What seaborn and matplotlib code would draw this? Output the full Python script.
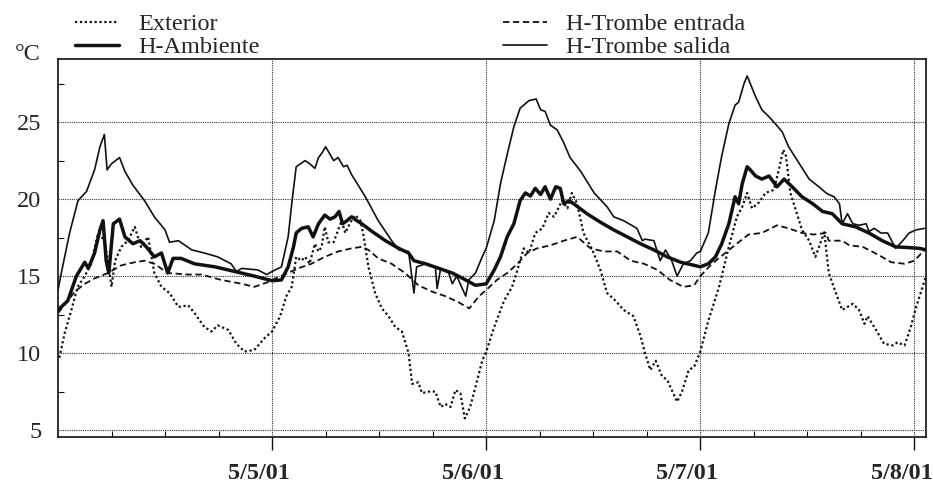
import numpy as np
import pandas as pd
import matplotlib
matplotlib.use("Agg")
import matplotlib.pyplot as plt
import matplotlib.transforms as mtransforms
import matplotlib.dates as mdates
import seaborn as sns

# ---------------- data (hours since 5/4/01 00:00, temperature in °C) ----------------
ext_h = [0.15, 0.75, 1.5, 2.2, 3.0, 3.7, 4.5, 5.2, 5.6, 6.0, 6.4, 7.1, 7.85, 8.6, 9.3, 10.1, 10.8, 11.6,
         12.5, 13.5, 14.6, 15.3, 16.4, 17.2, 17.9, 19.1, 20.0, 20.9, 22.0, 23.2, 24.0, 24.9, 25.6, 26.2,
         26.7, 27.3, 27.7, 28.2, 28.8, 29.2, 29.55, 29.9, 30.3, 30.9, 31.4, 31.8, 32.2, 32.7, 33.3, 33.9,
         34.2, 34.8, 35.55, 36.3, 37.05, 37.8, 38.55, 39.3, 39.7, 40.4, 40.8, 41.55, 42.3, 42.9, 43.4,
         44.0, 44.55, 45.1, 45.6, 46.2, 47.0, 47.55, 48.0, 48.9, 50.0, 50.9, 51.5, 52.2, 52.8, 53.5,
         54.3, 55.0, 55.6, 56.5, 57.1, 57.6, 58.2, 58.9, 59.9, 60.8, 61.55, 62.5, 63.4, 64.5, 65.3,
         65.8, 66.4, 67.0, 67.7, 68.3, 68.8, 69.4, 69.95, 70.7, 71.3, 72.0, 72.9, 74.1, 75.2, 76.1,
         76.7, 77.25, 77.8, 78.6, 79.3, 80.25, 80.8, 81.3, 81.6, 82.1, 82.7, 83.4, 84.2, 84.9, 85.9,
         86.4, 87.2, 87.9, 89.1, 89.8, 90.4, 90.75, 91.7, 92.6, 93.6, 94.1, 94.9, 95.6, 96.2, 97.3]
ext_t = [9.7, 11.3, 12.8, 14.3, 15.0, 15.8, 17.8, 17.3, 16.0, 14.3, 16.0, 16.9, 17.3, 18.2, 16.9, 17.55, 15.2, 14.3,
         13.9, 13.0, 13.1, 12.6, 11.7, 11.4, 11.8, 11.5, 10.6, 10.1, 10.2, 11.0, 11.4, 12.4, 13.7, 14.3,
         16.25, 16.0, 16.25, 15.8, 17.1, 16.6, 16.9, 18.2, 17.2, 17.2, 18.0, 18.6, 17.8, 18.4, 18.96, 18.6,
         17.8, 15.6, 13.9, 12.9, 12.4, 11.7, 11.4, 10.0, 8.0, 8.1, 7.4, 7.5, 7.5, 6.5, 6.7,
         6.5, 7.6, 7.4, 5.76, 6.5, 8.25, 9.5, 10.1, 11.7, 13.4, 14.3, 15.4, 16.8, 16.5, 17.8,
         18.1, 19.1, 18.85, 19.9, 19.4, 20.4, 19.7, 17.8, 16.7, 15.4, 13.9, 13.4, 12.8, 12.4, 11.1,
         10.0, 8.9, 9.5, 8.5, 8.25, 7.6, 6.84, 7.5, 8.9, 9.1, 10.1, 12.1, 14.3, 16.9, 18.85,
         19.5, 20.4, 19.4, 19.8, 20.4, 20.6, 21.9, 23.2, 22.8, 20.4, 19.3, 18.0, 17.3, 16.25, 17.85,
         15.2, 13.9, 12.8, 13.2, 12.8, 11.9, 12.4, 11.5, 10.6, 10.5, 10.7, 10.5, 11.7, 13.0, 15.0]

amb_h = [0.0, 1.1, 2.06, 3.0, 3.4, 4.1, 4.7, 5.05, 5.4, 5.7, 6.2, 6.9, 7.5, 8.4, 9.2, 9.9, 10.8, 11.6, 12.3,
         12.9, 13.8, 15.3, 17.6, 19.8, 22.0, 24.0, 25.05, 25.8, 26.4, 26.7, 27.3, 28.05, 28.6, 29.2, 29.9,
         30.5, 31.05, 31.5, 31.9, 32.4, 32.9, 33.5, 34.05, 35.2, 36.7, 38.2, 39.3, 39.9, 41.2, 42.7, 44.2,
         45.7, 46.8, 48.0, 48.9, 49.6, 50.35, 51.1, 51.8, 52.4, 52.96, 53.5, 54.1, 54.6, 55.2, 55.8, 56.3,
         56.7, 57.3, 57.8, 59.3, 60.8, 62.3, 63.8, 65.3, 66.8, 68.3, 69.8, 71.3, 72.0, 72.9, 73.7, 74.4,
         75.2, 75.9, 76.3, 76.7, 77.25, 77.6, 78.2, 78.9, 79.7, 80.6, 81.4, 82.3, 83.4, 84.6, 85.7, 86.8,
         87.9, 89.4, 90.9, 92.4, 93.9, 95.4, 96.6, 97.3]
amb_t = [12.8, 13.4, 15.0, 15.9, 15.5, 16.5, 18.0, 18.6, 16.0, 15.2, 18.4, 18.7, 17.55, 17.1, 17.3, 16.9, 16.25, 16.5, 15.2,
         16.15, 16.15, 15.8, 15.6, 15.3, 15.0, 14.7, 14.75, 15.6, 16.9, 17.8, 18.1, 18.2, 17.55, 18.4, 18.96,
         18.7, 18.85, 19.2, 18.4, 18.6, 18.85, 18.6, 18.4, 17.9, 17.3, 16.8, 16.5, 16.0, 15.8, 15.5, 15.2,
         14.75, 14.4, 14.5, 15.4, 16.25, 17.55, 18.4, 19.9, 20.4, 20.2, 20.7, 20.3, 20.8, 20.0, 20.8, 20.7,
         19.7, 19.9, 19.7, 19.05, 18.5, 18.0, 17.55, 17.1, 16.7, 16.25, 15.9, 15.7, 15.6, 15.8, 16.25, 17.1,
         18.4, 20.15, 19.7, 21.0, 22.1, 21.9, 21.5, 21.3, 21.5, 20.8, 21.3, 20.8, 20.15, 19.7, 19.2, 19.05,
         18.4, 18.2, 17.8, 17.3, 16.9, 16.85, 16.8, 16.7]

ent_h = [0.0, 1.1, 1.9, 3.0, 4.1, 5.6, 7.1, 8.6, 9.7, 10.8, 12.3, 14.6, 16.1, 18.3, 20.6, 22.0, 23.5, 24.0,
         25.4, 26.9, 28.4, 29.9, 31.4, 32.9, 34.05, 34.8, 35.9, 37.4, 38.9, 40.4, 41.9, 43.4, 44.9, 46.1,
         47.2, 48.0, 49.2, 50.35, 51.5, 52.6, 53.7, 55.2, 56.7, 58.2, 59.7, 61.2, 62.7, 64.2, 65.7, 67.2,
         68.6, 70.1, 71.3, 72.0, 73.3, 74.8, 76.3, 77.4, 78.9, 80.6, 81.9, 83.4, 84.7, 86.1, 86.4, 87.9,
         88.7, 90.2, 91.9, 93.4, 94.9, 96.0, 97.3]
ent_t = [12.6, 13.4, 14.0, 14.5, 14.85, 15.2, 15.7, 15.9, 16.0, 15.8, 15.2, 15.1, 15.1, 14.75, 14.5, 14.3, 14.6, 14.75,
         15.1, 15.5, 15.8, 16.25, 16.6, 16.8, 16.9, 16.7, 16.15, 15.8, 15.2, 14.4, 14.0, 13.7, 13.3, 12.9,
         13.7, 14.1, 14.75, 15.2, 15.8, 16.5, 16.8, 17.0, 17.3, 17.55, 16.8, 16.6, 16.6, 16.0, 15.8, 15.4,
         14.75, 14.3, 14.4, 15.0, 15.8, 16.5, 17.2, 17.7, 17.8, 18.3, 18.1, 17.8, 17.7, 17.8, 17.3, 17.3,
         17.0, 16.9, 16.4, 15.9, 15.8, 16.0, 16.8]

sal_h = [0.0, 0.37, 1.3, 2.24, 3.2, 4.1, 4.7, 5.2, 5.5, 6.0, 6.9, 7.5, 8.4, 9.7, 10.8, 12.0, 12.5, 13.5, 15.0,
         16.4, 17.9, 19.4, 20.0, 20.6, 22.4, 23.4, 24.0, 25.05, 25.8, 26.2, 26.7, 27.7, 28.2, 28.8, 29.2,
         29.6, 30.0, 30.5, 30.9, 31.4, 32.0, 32.4, 32.9, 34.4, 35.9, 37.4, 38.2, 39.3, 39.9, 40.2, 41.2,
         42.3, 42.5, 42.9, 43.8, 44.2, 44.7, 45.7, 46.05, 46.8, 47.55, 48.0, 48.9, 49.6, 50.35, 51.1, 51.8,
         52.8, 53.6, 54.1, 54.6, 55.2, 55.95, 56.7, 57.4, 58.6, 60.1, 61.55, 62.3, 63.4, 64.9, 65.5, 65.8,
         66.8, 67.5, 68.1, 68.8, 69.4, 70.1, 70.9, 71.6, 72.0, 72.9, 73.7, 74.4, 75.2, 75.9, 76.3, 76.9,
         77.25, 77.6, 78.2, 78.9, 79.7, 80.4, 81.2, 81.9, 83.1, 84.2, 85.3, 86.1, 86.4, 87.0, 87.6, 87.9,
         88.5, 89.1, 89.8, 90.6, 90.9, 91.5, 92.25, 93.0, 93.9, 94.7, 95.4, 96.2, 97.1]
sal_t = [14.09, 15.2, 17.8, 19.9, 20.5, 21.9, 23.4, 24.2, 21.9, 22.3, 22.7, 21.8, 20.9, 19.9, 18.85, 18.0, 17.2, 17.3, 16.7,
         16.5, 16.25, 15.8, 15.3, 15.5, 15.4, 15.1, 15.3, 15.6, 17.55, 19.7, 22.1, 22.5, 22.3, 22.0, 22.7,
         23.0, 23.4, 22.9, 22.5, 22.7, 22.1, 22.2, 21.6, 20.2, 18.6, 17.3, 16.7, 16.6, 13.9, 15.6, 15.8,
         15.6, 14.2, 15.5, 15.2, 14.5, 15.0, 13.7, 14.75, 15.2, 16.25, 16.8, 18.6, 21.0, 22.9, 24.7, 25.9,
         26.4, 26.5, 25.8, 25.7, 24.8, 24.5, 23.65, 22.7, 21.8, 20.4, 19.5, 18.85, 18.6, 18.1, 17.3, 17.4,
         17.3, 16.0, 16.7, 16.0, 15.0, 15.8, 16.0, 16.5, 16.6, 17.8, 20.6, 22.8, 24.9, 26.1, 26.3, 27.5,
         28.0, 27.5, 26.65, 25.8, 25.35, 24.9, 24.35, 23.4, 22.3, 21.3, 20.8, 20.4, 20.3, 20.15, 19.7, 18.4,
         19.05, 18.4, 18.3, 18.4, 17.9, 18.1, 17.8, 17.8, 16.8, 17.3, 17.8, 18.0, 18.1]

series_names = ["Exterior", "H-Ambiente", "H-Trombe entrada", "H-Trombe salida"]
y_ticks = [5, 10, 15, 20, 25]
x_tick_labels = ["5/5/01", "5/6/01", "5/7/01", "5/8/01"]
start = pd.Timestamp("2001-05-04 00:00")

def to_df(h, t):
    return pd.DataFrame({"time": start + pd.to_timedelta(np.array(h), unit="h"), "temp": t})

# ---------------- styling ----------------
sns.set_style("ticks")
plt.rcParams["font.family"] = ["Liberation Serif", "DejaVu Serif"]
plt.rcParams["font.size"] = 17.5

ink = "#111111"
fig = plt.figure(figsize=(9.33, 4.88), dpi=100)
ax = fig.add_axes([58 / 933, 1 - 437 / 488, (926 - 58) / 933, (437 - 59) / 488])

styles = {
    "Exterior": dict(lw=1.6, ls=(0, (1, 1.2))),
    "H-Ambiente": dict(lw=2.5, ls="-"),
    "H-Trombe entrada": dict(lw=1.3, ls=(0, (3.5, 2))),
    "H-Trombe salida": dict(lw=1.2, ls="-"),
}
data = {"Exterior": (ext_h, ext_t), "H-Ambiente": (amb_h, amb_t),
        "H-Trombe entrada": (ent_h, ent_t), "H-Trombe salida": (sal_h, sal_t)}

for name in series_names:
    d = to_df(*data[name])
    st = styles[name]
    sns.lineplot(data=d, x="time", y="temp", ax=ax, color=ink, linewidth=st["lw"],
                 linestyle=st["ls"], label=name, estimator=None, legend=False)

ax.set_xlim(start, start + pd.Timedelta(hours=97.3))
ax.set_ylim(4.55, 29.1)

# ticks
major_days = [start + pd.Timedelta(days=i) for i in range(1, 5)]
ax.set_xticks(major_days)
ax.set_xticklabels(x_tick_labels, fontweight="bold", fontsize=17.5)
ax.xaxis.set_minor_locator(mdates.HourLocator(byhour=[6, 12, 18]))
ax.set_yticks(y_ticks)
ax.set_yticklabels([str(v) for v in y_ticks], fontsize=17.5)
ax.set_yticks(np.arange(7.5, 29, 5), minor=True)
ax.tick_params(axis="x", which="major", direction="out", length=9, width=1, color=ink, pad=10)
ax.tick_params(axis="x", which="minor", direction="in", length=4, width=0.8, color=ink)
ax.tick_params(axis="y", which="major", direction="in", length=0, pad=12)
ax.tick_params(axis="y", which="minor", direction="in", length=4, width=0.8, color=ink)
offset = mtransforms.ScaledTranslation(-13 / 100, 0, fig.dpi_scale_trans)
for lbl in ax.get_xticklabels():
    lbl.set_transform(lbl.get_transform() + offset)

ax.grid(True, which="major", color="#333333", linestyle=(0, (1, 1)), linewidth=0.8)
for s in ax.spines.values():
    s.set_visible(True)
    s.set_color(ink)
    s.set_linewidth(1.2)
ax.set_xlabel("")
ax.set_ylabel("")

# unit label
fig.text(15 / 933, 1 - 60 / 488, "°C", fontsize=17.5, ha="left", va="baseline")

# legend
handles, labels = ax.get_legend_handles_labels()
order = [labels.index(n) for n in series_names]
fig.legend([handles[i] for i in order], [labels[i] for i in order], ncol=2,
           loc="upper left", bbox_to_anchor=(75 / 933, 1 - 13 / 488), frameon=False,
           borderpad=0, borderaxespad=0, handlelength=1.8, handletextpad=0.8,
           columnspacing=10.0, labelspacing=0.05, fontsize=17.5)

fig.savefig("out.png", dpi=100)
